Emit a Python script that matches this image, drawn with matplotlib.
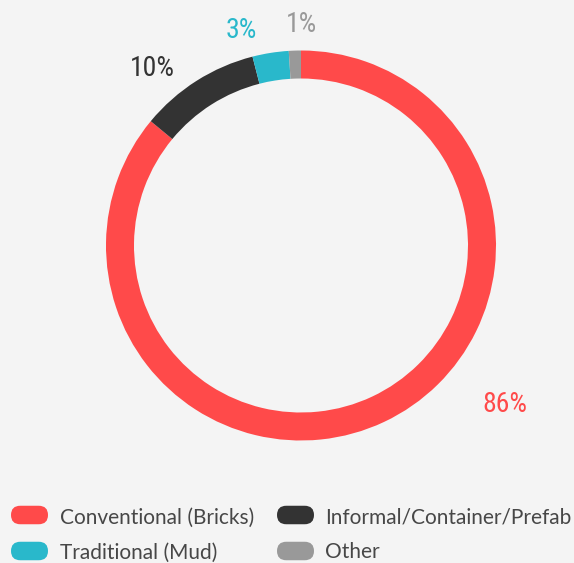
import matplotlib
matplotlib.use("Agg")
import matplotlib.pyplot as plt
from matplotlib.patches import FancyBboxPatch

# share of dwellings by construction type
categories = ["Conventional (Bricks)", "Informal/Container/Prefab", "Traditional (Mud)", "Other"]
shares = [86, 10, 3, 1]
colors = ["#FF4A4A", "#333333", "#29B8CB", "#999999"]
pct_labels = ["86%", "10%", "3%", "1%"]
# baseline position of each percentage label (pixels, y from the top)
label_pos = [(505, 412.5), (152.5, 76), (241.5, 38), (302, 32)]

W, H = 574, 563
bg = "#F4F4F4"

fig = plt.figure(figsize=(W / 100, H / 100), dpi=100, facecolor=bg)
ax = fig.add_axes([0, 0, 1, 1])
ax.set_facecolor(bg)

cx, cy, r = 301, H - 245.5, 195
ax.pie(shares, colors=colors, startangle=90, counterclock=False,
       center=(cx, cy), radius=r, frame=True,
       wedgeprops=dict(width=28, linewidth=0))
ax.set_xlim(0, W)
ax.set_ylim(0, H)
ax.set_aspect("equal")
ax.axis("off")

pct_font = ["Roboto Condensed", "Roboto", "DejaVu Sans"]
for lab, (x, y), c in zip(pct_labels, label_pos, colors):
    ax.text(x, H - y, lab, color=c, fontsize=20, family=pct_font,
            ha="center", va="baseline")

# legend with rounded pills, two columns
pill_x = [11, 277]
text_x = [59.5, 325.5]
row_mid = [515, 551]
row_base = [523.5, 558.5]
for i, (name, c) in enumerate(zip(categories, colors)):
    col, row = i % 2, i // 2
    pill = FancyBboxPatch((pill_x[col], H - row_mid[row] - 9.25), 37, 18.5,
                          boxstyle="round,pad=0,rounding_size=9.25",
                          fc=c, ec="none")
    ax.add_patch(pill)
    ax.text(text_x[col], H - row_base[row], name, color="#474747",
            fontsize=15, family=["Lato", "DejaVu Sans"],
            ha="left", va="baseline")

fig.savefig("out.png", dpi=100, facecolor=bg)
